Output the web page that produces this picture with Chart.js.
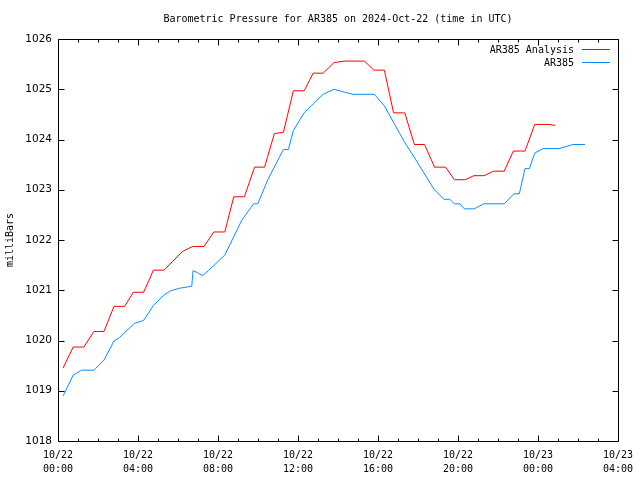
<!DOCTYPE html>
<html>
<head>
<meta charset="utf-8">
<script src="https://cdn.jsdelivr.net/npm/chart.js@4/dist/chart.umd.min.js"></script>
<style>
html,body{margin:0;padding:0;background:#fff;}
#c{display:block;}
</style>
</head>
<body>
<canvas id="c" width="640" height="480"></canvas>
<script>
// Hours since 2024-10-22 00:00 UTC
const analysisHours = [0.25,0.76,1.29,1.80,2.30,2.80,3.33,3.77,4.28,4.77,5.31,5.72,6.22,6.72,7.30,7.79,8.34,8.79,9.32,9.83,10.33,10.82,11.27,11.77,12.31,12.76,13.26,13.80,14.30,15.33,15.79,16.32,16.78,17.34,17.82,18.33,18.83,19.38,19.82,20.37,20.79,21.31,21.78,22.31,22.77,23.35,23.84,24.56,24.86];
const analysisValues = [1019.45,1019.87,1019.87,1020.18,1020.18,1020.68,1020.68,1020.96,1020.96,1021.40,1021.40,1021.57,1021.77,1021.87,1021.87,1022.16,1022.16,1022.86,1022.86,1023.45,1023.45,1024.12,1024.14,1024.97,1024.97,1025.32,1025.32,1025.53,1025.56,1025.56,1025.38,1025.38,1024.53,1024.53,1023.90,1023.90,1023.45,1023.45,1023.20,1023.20,1023.28,1023.28,1023.37,1023.37,1023.77,1023.77,1024.30,1024.30,1024.28];
const stationHours = [0.26,0.76,1.18,1.80,2.30,2.80,3.08,3.82,4.28,4.78,5.31,5.64,6.08,6.69,6.75,6.97,7.22,7.52,8.34,9.20,9.78,9.99,10.49,11.27,11.52,11.77,12.31,13.26,13.80,14.25,14.74,15.82,16.32,16.81,17.31,17.84,18.80,19.30,19.59,19.82,20.09,20.32,20.82,21.28,22.31,22.80,23.07,23.35,23.57,23.84,24.26,25.06,25.75,26.35];
const stationValues = [1018.90,1019.31,1019.41,1019.41,1019.61,1019.99,1020.06,1020.34,1020.40,1020.70,1020.91,1020.99,1021.04,1021.08,1021.39,1021.35,1021.29,1021.39,1021.70,1022.40,1022.72,1022.72,1023.20,1023.80,1023.80,1024.18,1024.53,1024.90,1025.00,1024.95,1024.90,1024.90,1024.67,1024.32,1023.96,1023.63,1023.01,1022.81,1022.81,1022.72,1022.72,1022.62,1022.62,1022.72,1022.72,1022.92,1022.92,1023.42,1023.42,1023.73,1023.82,1023.82,1023.90,1023.90];
const xTickLabels = ["10/22\n00:00","10/22\n04:00","10/22\n08:00","10/22\n12:00","10/22\n16:00","10/22\n20:00","10/23\n00:00","10/23\n04:00"];
const seriesNames = ["AR385 Analysis","AR385"];
const titleText = "Barometric Pressure for AR385 on 2024-Oct-22 (time in UTC)";

const RED = '#ff0000', BLUE = '#0a8cff';
const MONO = '"DejaVu Sans Mono", monospace';

const toPts = (xs, ys) => xs.map((x, i) => ({x: x, y: ys[i]}));

const framePlugin = {
  id: 'frame',
  afterDraw(chart) {
    const ctx = chart.ctx, a = chart.chartArea;
    const xs = chart.scales.x, ys = chart.scales.y;
    ctx.save();
    ctx.strokeStyle = '#000';
    ctx.lineWidth = 1;
    const L = Math.round(a.left) + 0.5, R = Math.round(a.right) + 0.5;
    const T = Math.round(a.top) + 0.5, B = Math.round(a.bottom) + 0.5;
    ctx.beginPath();
    ctx.rect(L, T, R - L, B - T);
    for (let h = 0; h <= 28; h++) {
      const px = Math.round(xs.getPixelForValue(h)) + 0.5;
      const len = (h % 4 === 0) ? 6 : 3;
      ctx.moveTo(px, B); ctx.lineTo(px, B - len);
      ctx.moveTo(px, T); ctx.lineTo(px, T + len);
    }
    for (let v = 1018; v <= 1026; v++) {
      const py = Math.round(ys.getPixelForValue(v)) + 0.5;
      ctx.moveTo(L, py); ctx.lineTo(L + 6, py);
      ctx.moveTo(R, py); ctx.lineTo(R - 6, py);
    }
    ctx.stroke();
    ctx.fillStyle = '#000';
    ctx.font = '10px ' + MONO;
    ctx.textAlign = 'center';
    ctx.textBaseline = 'middle';
    ctx.fillText(titleText, (a.left + a.right) / 2, 19);
    ctx.textAlign = 'right';
    const rows = [{y: 49.5, c: RED, t: chart.data.datasets[0].label}, {y: 62.5, c: BLUE, t: chart.data.datasets[1].label}];
    rows.forEach(r => {
      ctx.fillStyle = '#000';
      ctx.fillText(r.t, 574, r.y + 0.5);
      ctx.strokeStyle = r.c;
      ctx.beginPath();
      ctx.moveTo(582, r.y); ctx.lineTo(610, r.y);
      ctx.stroke();
    });
    ctx.restore();
  }
};

new Chart(document.getElementById('c'), {
  type: 'line',
  data: {
    datasets: [
      {label: seriesNames[0], data: toPts(analysisHours, analysisValues), borderColor: RED, borderWidth: 1, pointRadius: 0, tension: 0, fill: false},
      {label: seriesNames[1], data: toPts(stationHours, stationValues), borderColor: BLUE, borderWidth: 1, pointRadius: 0, tension: 0, fill: false}
    ]
  },
  options: {
    responsive: false,
    animation: false,
    devicePixelRatio: 1,
    layout: {padding: {top: 39, right: 18, left: 0, bottom: 0}},
    plugins: {legend: {display: false}, title: {display: false}, tooltip: {enabled: false}},
    scales: {
      x: {
        type: 'linear', min: 0, max: 28,
        grid: {display: false, drawTicks: false},
        border: {display: false},
        ticks: {
          stepSize: 4, autoSkip: false, maxRotation: 0, padding: 7,
          color: '#000', font: {family: MONO, size: 10, lineHeight: 1.4},
          callback: (v) => (v % 4 === 0) ? xTickLabels[v / 4].split('\n') : ''
        },
        afterFit: (s) => { s.height = 39; }
      },
      y: {
        min: 1018, max: 1026,
        grid: {display: false, drawTicks: false},
        border: {display: false},
        ticks: {stepSize: 1, padding: 6, color: '#000', font: {family: '"DejaVu Sans", sans-serif', size: 10.5},
          callback: (v) => String(v)},
        title: {display: true, text: 'milliBars', color: '#000', font: {family: MONO, size: 10}, padding: {top: 4, bottom: 0}},
        afterFit: (s) => { s.width = 58; }
      }
    }
  },
  plugins: [framePlugin]
});
</script>
</body>
</html>
